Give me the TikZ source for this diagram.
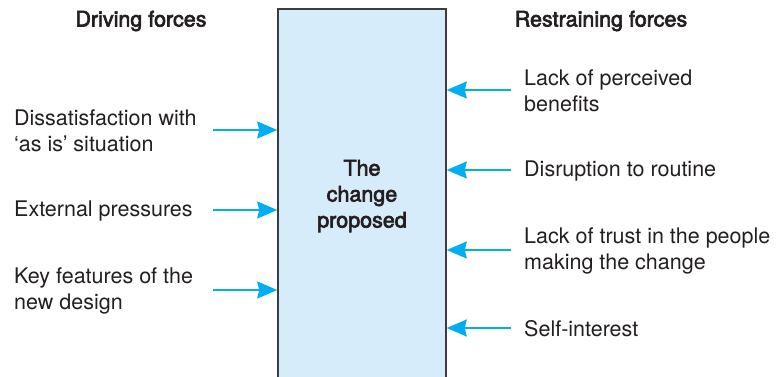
\documentclass[tikz,border=0pt]{standalone}
\usepackage{fontspec}
\setmainfont{TeX Gyre Heros}
\newfontfamily\medfont[FakeBold=3]{TeX Gyre Heros}
\usepackage{xcolor}
\usetikzlibrary{arrows.meta,positioning}
\definecolor{ForceCyan}{RGB}{0,174,239}
\definecolor{BoxBlue}{RGB}{214,236,250}
\definecolor{InkGrey}{RGB}{35,31,32}
\definecolor{EdgeGrey}{RGB}{60,60,60}

\begin{document}
\begin{tikzpicture}[x=1pt,y=-1pt,font=\fontsize{21.5}{26}\selectfont,text=InkGrey,
  lbl/.style={anchor=west,align=left,inner sep=0pt},
  head/.style={font=\fontsize{21.5}{26}\selectfont\medfont,inner sep=0pt},
  changebox/.style={draw=EdgeGrey,line width=1.5pt,fill=BoxBlue,minimum width=168pt,
    minimum height=374pt,align=center,font=\fontsize{21.5}{26}\selectfont\medfont},
  force/.style={ForceCyan,line width=2pt,-{Stealth[length=20pt,width=17pt,inset=2pt]}}]
  \useasboundingbox (0,0) rectangle (776,377);
  \node[changebox] (change) at (362,196) {The\\change\\proposed};
  \node[head] (drivehd) at (141,21) {Driving forces};
  \node[head] (resisthd) at (601,21) {Restraining forces};
  % driving forces push from the left
  \foreach \n/\y/\lab in {1/131/{Dissatisfaction with\\‘as is’ situation},2/211/{External pressures},
                          3/291/{Key features of the\\new design}}{
    \node[lbl] (drive\n) at (14,\y) {\lab};
    \coordinate (dtail\n) at (213,\y-1);
    \draw[force] (dtail\n) -- (dtail\n -| change.west);}
  % restraining forces push from the right
  \foreach \n/\y/\lab in {1/91/{Lack of perceived\\benefits},2/171/{Disruption to routine},
                          3/251/{Lack of trust in the people\\making the change},4/329/{Self-interest}}{
    \node[lbl] (resist\n) at (524,\y) {\lab};
    \coordinate (rtail\n) at (511,\y-1);
    \draw[force] (rtail\n) -- (rtail\n -| change.east);}
\end{tikzpicture}
\end{document}
